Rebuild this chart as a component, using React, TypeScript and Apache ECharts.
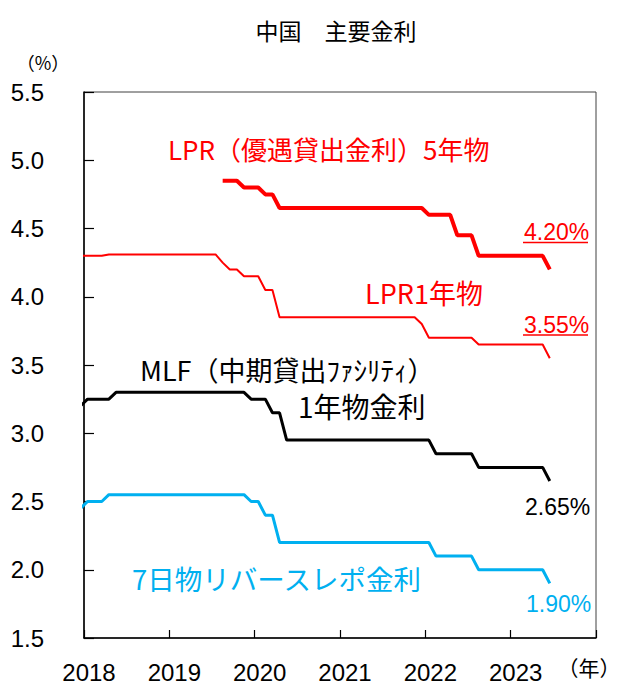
import { useEffect, useRef } from "react";
import * as echarts from "echarts";

// Monthly observations from Dec 2017 to Jun 2023 (67 months)
const startYear = 2017;
const startMonth = 12;
const monthCount = 67;
const months: string[] = [];
{
  let y = startYear;
  let m = startMonth;
  for (let i = 0; i < monthCount; i++) {
    months.push(`${y}-${String(m).padStart(2, "0")}`);
    m++;
    if (m > 12) { m = 1; y++; }
  }
}

const yearTicks = [2018, 2019, 2020, 2021, 2022, 2023];

// LPR 5-year (starts Aug 2019)
const lpr5: (number | null)[] = [
  null,
  null, null, null, null, null, null, null, null, null, null, null, null,
  null, null, null, null, null, null, null, 4.85, 4.85, 4.85, 4.80, 4.80,
  4.80, 4.75, 4.75, 4.65, 4.65, 4.65, 4.65, 4.65, 4.65, 4.65, 4.65, 4.65,
  4.65, 4.65, 4.65, 4.65, 4.65, 4.65, 4.65, 4.65, 4.65, 4.65, 4.65, 4.65,
  4.60, 4.60, 4.60, 4.60, 4.45, 4.45, 4.45, 4.30, 4.30, 4.30, 4.30, 4.30,
  4.30, 4.30, 4.30, 4.30, 4.30, 4.20,
];

// LPR 1-year
const lpr1: number[] = [
  4.30,
  4.30, 4.30, 4.30, 4.31, 4.31, 4.31, 4.31, 4.31, 4.31, 4.31, 4.31, 4.31,
  4.31, 4.31, 4.31, 4.31, 4.31, 4.31, 4.31, 4.25, 4.20, 4.20, 4.15, 4.15,
  4.15, 4.05, 4.05, 3.85, 3.85, 3.85, 3.85, 3.85, 3.85, 3.85, 3.85, 3.85,
  3.85, 3.85, 3.85, 3.85, 3.85, 3.85, 3.85, 3.85, 3.85, 3.85, 3.85, 3.80,
  3.70, 3.70, 3.70, 3.70, 3.70, 3.70, 3.70, 3.65, 3.65, 3.65, 3.65, 3.65,
  3.65, 3.65, 3.65, 3.65, 3.65, 3.55,
];

// MLF 1-year
const mlf: number[] = [
  3.20,
  3.25, 3.25, 3.25, 3.25, 3.30, 3.30, 3.30, 3.30, 3.30, 3.30, 3.30, 3.30,
  3.30, 3.30, 3.30, 3.30, 3.30, 3.30, 3.30, 3.30, 3.30, 3.30, 3.30, 3.25,
  3.25, 3.25, 3.15, 3.15, 2.95, 2.95, 2.95, 2.95, 2.95, 2.95, 2.95, 2.95,
  2.95, 2.95, 2.95, 2.95, 2.95, 2.95, 2.95, 2.95, 2.95, 2.95, 2.95, 2.95,
  2.95, 2.85, 2.85, 2.85, 2.85, 2.85, 2.85, 2.75, 2.75, 2.75, 2.75, 2.75,
  2.75, 2.75, 2.75, 2.75, 2.75, 2.65,
];

// 7-day reverse repo
const repo7: number[] = [
  2.45,
  2.50, 2.50, 2.50, 2.55, 2.55, 2.55, 2.55, 2.55, 2.55, 2.55, 2.55, 2.55,
  2.55, 2.55, 2.55, 2.55, 2.55, 2.55, 2.55, 2.55, 2.55, 2.55, 2.55, 2.50,
  2.50, 2.40, 2.40, 2.20, 2.20, 2.20, 2.20, 2.20, 2.20, 2.20, 2.20, 2.20,
  2.20, 2.20, 2.20, 2.20, 2.20, 2.20, 2.20, 2.20, 2.20, 2.20, 2.20, 2.20,
  2.20, 2.10, 2.10, 2.10, 2.10, 2.10, 2.10, 2.00, 2.00, 2.00, 2.00, 2.00,
  2.00, 2.00, 2.00, 2.00, 2.00, 1.90,
];

const monthToX = (s: string) => {
  const [y, m] = s.split("-").map(Number);
  return y + (m - 0.5) / 12;
};

const toData = (vals: (number | null)[]) =>
  vals
    .map((v, i) => (v == null ? null : [monthToX(months[i]), v]))
    .filter((d) => d != null);

const RED = "#FF0000";
const CYAN = "#00B0F0";
const CJK = "'Noto Sans CJK JP', 'Noto Sans', sans-serif";
const NUM = "'Liberation Sans', 'Noto Sans', sans-serif";

export default function App() {
  const ref = useRef<HTMLDivElement>(null);
  useEffect(() => {
    if (!ref.current) return;
    const chart = echarts.init(ref.current, undefined, { renderer: "svg" });
    const txt = (
      text: string,
      x: number,
      y: number,
      size: number,
      color: string,
      font: string,
      align: string = "left"
    ) => ({
      type: "text",
      x,
      y,
      style: {
        text,
        fill: color,
        fontSize: size,
        fontFamily: font,
        textAlign: align,
        textVerticalAlign: "middle",
      },
    });
    chart.setOption({
      animation: false,
      backgroundColor: "#ffffff",
      grid: {
        left: 84,
        right: 29,
        top: 92,
        bottom: 47,
        show: true,
        borderColor: "#404040",
        borderWidth: 1,
        backgroundColor: "transparent",
      },
      xAxis: {
        type: "value",
        min: 2018,
        max: 2024,
        interval: 1,
        axisLine: { show: true, lineStyle: { color: "#000", width: 1.5 } },
        axisTick: { show: true, inside: true, length: 8, lineStyle: { color: "#000", width: 1.2 } },
        splitLine: { show: false },
        axisLabel: {
          show: true,
          margin: 21,
          fontSize: 24,
          lineHeight: 26,
          fontFamily: NUM,
          color: "#000",
          padding: [0, 0, 0, 10],
          showMinLabel: true,
          showMaxLabel: true,
          formatter: (v: number) => (yearTicks.includes(Math.round(v)) ? String(Math.round(v)) : ""),
        },
      },
      yAxis: {
        type: "value",
        min: 1.5,
        max: 5.5,
        interval: 0.5,
        axisLine: { show: true, lineStyle: { color: "#000", width: 1.5 } },
        axisTick: { show: true, inside: true, length: 10, lineStyle: { color: "#000", width: 1.2 } },
        splitLine: { show: false },
        axisLabel: {
          show: true,
          margin: 40,
          fontSize: 24,
          fontFamily: NUM,
          color: "#000",
          formatter: (v: number) => v.toFixed(1),
        },
      },
      series: [
        {
          name: "LPR5",
          type: "line",
          data: toData(lpr5),
          symbol: "none",
          clip: true,
          lineStyle: { color: RED, width: 4 },
        },
        {
          name: "LPR1",
          type: "line",
          data: toData(lpr1),
          symbol: "none",
          clip: true,
          lineStyle: { color: RED, width: 2 },
        },
        {
          name: "MLF",
          type: "line",
          data: toData(mlf),
          symbol: "none",
          clip: true,
          lineStyle: { color: "#000", width: 3 },
        },
        {
          name: "Repo",
          type: "line",
          data: toData(repo7),
          symbol: "none",
          clip: true,
          lineStyle: { color: CYAN, width: 3 },
        },
      ],
      graphic: [
        txt("中国　主要金利", 336, 30, 23, "#000", CJK, "center"),
        txt("（%）", 43, 62, 18, "#000", CJK, "center"),
        txt("（年）", 589, 667, 21, "#000", CJK, "center"),
        txt("LPR（優遇貸出金利）5年物", 168, 148, 26, RED, CJK),
        txt("4.20%", 524, 232, 23, RED, NUM),
        { type: "line", shape: { x1: 523, y1: 242.5, x2: 588, y2: 242.5 }, style: { stroke: RED, lineWidth: 1.5 } },
        txt("LPR1年物", 365, 292, 27, RED, CJK),
        txt("3.55%", 524, 325, 23, RED, NUM),
        { type: "line", shape: { x1: 523, y1: 335, x2: 588, y2: 335 }, style: { stroke: RED, lineWidth: 1.5 } },
        txt("MLF（中期貸出ﾌｧｼﾘﾃｨ）", 140, 369, 27, "#000", CJK),
        txt("1年物金利", 298, 406, 28, "#000", CJK),
        txt("2.65%", 525, 507, 23, "#000", NUM),
        txt("7日物リバースレポ金利", 132, 578, 27.5, CYAN, CJK),
        txt("1.90%", 526, 604, 23, CYAN, NUM),
      ],
    });
    return () => chart.dispose();
  }, []);
  return (
    <div
      ref={ref}
      style={{ position: "absolute", left: 0, top: 0, width: 625, height: 685, background: "#fff" }}
    />
  );
}
